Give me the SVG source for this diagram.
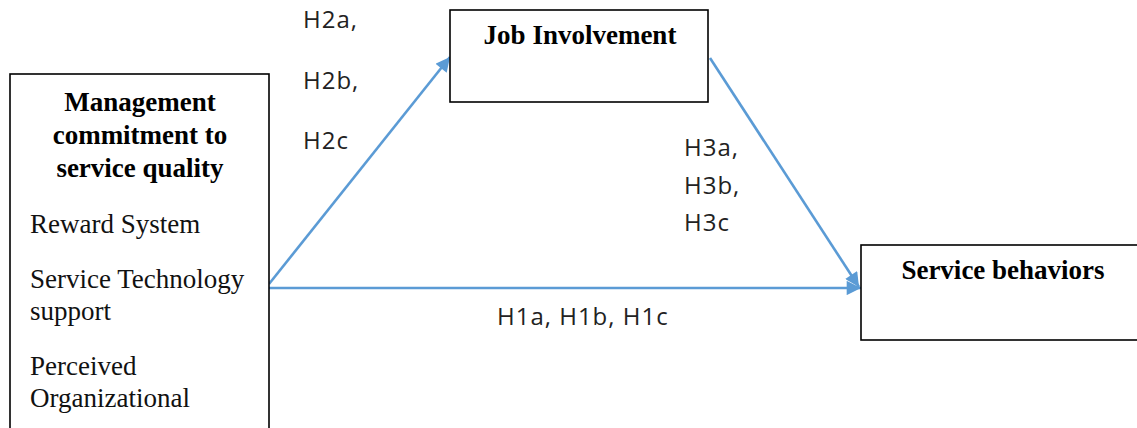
<svg xmlns="http://www.w3.org/2000/svg" width="1137" height="428" viewBox="0 0 1137 428">
<defs>
<style>
.box{fill:#fff;stroke:#000;stroke-width:1.6}
.bold{font-family:"Liberation Serif","Times New Roman",serif;font-weight:bold;font-size:27px;fill:#000;text-anchor:middle}
.reg{font-family:"Liberation Serif","Times New Roman",serif;font-size:27px;fill:#111}
.lab{font-family:"Open Sans","Liberation Sans",sans-serif;font-size:24px;letter-spacing:1px;fill:#222}
.conn{stroke:#5B9BD5;stroke-width:2.6;fill:none}
</style>
<marker id="ah" viewBox="0 0 10 10" refX="10" refY="5" markerWidth="6" markerHeight="5.5" markerUnits="strokeWidth" orient="auto">
<path d="M0,0 L10,5 L0,10 z" fill="#5B9BD5"/>
</marker>
</defs>
<rect width="1137" height="428" fill="#fff"/>
<g id="connectors">
<line class="conn" x1="269" y1="284" x2="450" y2="57" marker-end="url(#ah)"/>
<line class="conn" x1="269" y1="288" x2="861" y2="288" marker-end="url(#ah)"/>
<line class="conn" x1="710" y1="58" x2="859" y2="287" marker-end="url(#ah)"/>
</g>
<g id="node-management">
<rect class="box" x="10" y="74" width="259" height="370"/>
<text class="bold" x="140" y="111">Management</text>
<text class="bold" x="140" y="144">commitment to</text>
<text class="bold" x="140" y="177">service quality</text>
<text class="reg" x="30" y="233">Reward System</text>
<text class="reg" x="30" y="288">Service Technology</text>
<text class="reg" x="30" y="320">support</text>
<text class="reg" x="30" y="375">Perceived</text>
<text class="reg" x="30" y="407">Organizational</text>
</g>
<g id="node-job">
<rect class="box" x="450" y="10" width="258" height="92"/>
<text class="bold" x="580" y="44">Job Involvement</text>
</g>
<g id="node-service">
<rect class="box" x="861" y="245" width="290" height="95"/>
<text class="bold" x="1003" y="279">Service behaviors</text>
</g>
<g id="labels">
<text class="lab" x="303" y="28">H2a,</text>
<text class="lab" x="303" y="89">H2b,</text>
<text class="lab" x="303" y="149">H2c</text>
<text class="lab" x="684" y="156">H3a,</text>
<text class="lab" x="684" y="194">H3b,</text>
<text class="lab" x="684" y="231">H3c</text>
<text class="lab" x="497" y="325">H1a, H1b, H1c</text>
</g>
</svg>
